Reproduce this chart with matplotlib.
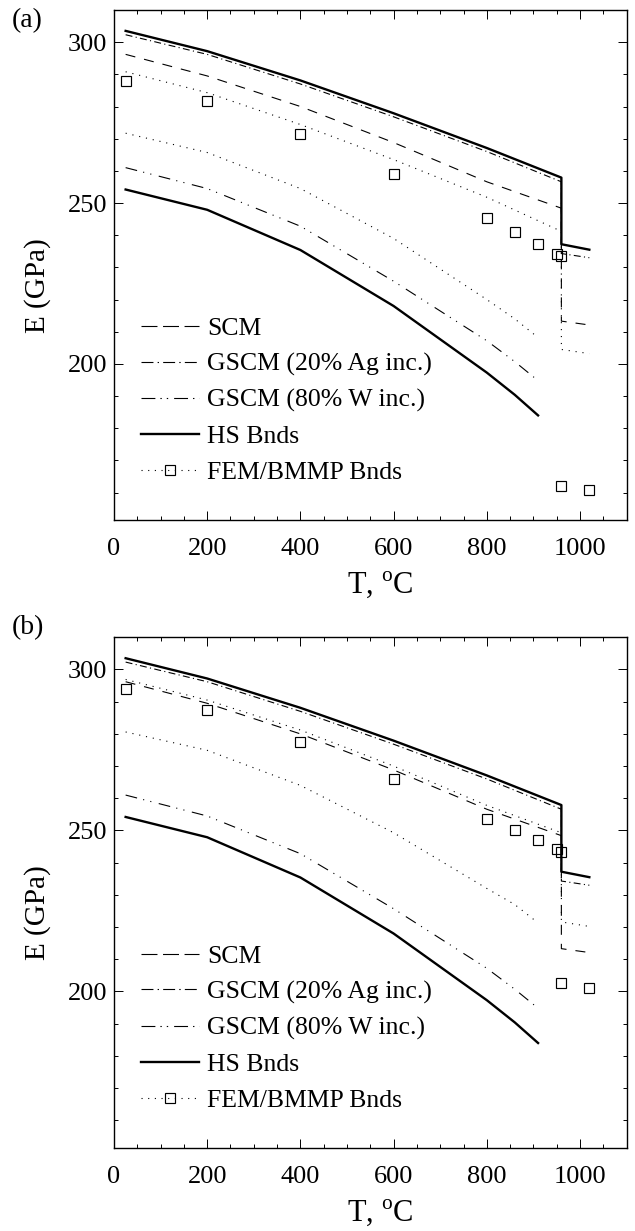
import matplotlib

matplotlib.use("Agg")
import matplotlib.pyplot as plt
from matplotlib.lines import Line2D
from matplotlib.ticker import MultipleLocator

plt.rcParams["font.family"] = ["Liberation Serif", "DejaVu Serif"]
plt.rcParams["mathtext.fontset"] = "custom"
plt.rcParams["mathtext.rm"] = "Liberation Serif"
plt.rcParams["lines.scale_dashes"] = False

# temperatures (C)
T_HI = [25, 200, 400, 600, 800, 960, 960, 1020]
T_LO = [25, 200, 400, 600, 800, 860, 910]
T_FEM = [25, 200, 400, 600, 800, 860, 910, 950, 960, 960, 1020]

# analytical models (GPa), same in both panels
HS_UPPER = [303.5, 297.2, 288.1, 277.9, 267.1, 257.9, 237.2, 235.5]
GSCM_AG = [302.3, 296.2, 287.0, 276.8, 266.0, 256.6, 234.3, 233.0]
SCM = [296.2, 289.5, 280.0, 268.8, 256.6, 248.4, 213.3, 212.1]
GSCM_W = [261.0, 254.5, 242.8, 225.7, 207.2, 200.7, 194.8]
HS_LOWER = [254.2, 247.9, 235.4, 218.0, 197.3, 190.4, 184.0]

# panel (a)
BMMP_UP_A = [290.8, 284.3, 274.4, 263.5, 251.8, 241.2, 204.5, 203.2]
BMMP_LO_A = [271.7, 265.7, 254.5, 239.0, 220.0, 214.0, 208.2]
FEM_A = [287.9, 281.6, 271.4, 259.0, 245.3, 241.0, 237.3, 234.3, 233.5, 162.1, 160.8]

# panel (b)
BMMP_UP_B = [296.9, 290.5, 281.2, 270.0, 257.8, 249.3, 221.6, 220.2]
BMMP_LO_B = [280.6, 274.9, 264.0, 249.3, 232.0, 227.0, 221.3]
FEM_B = [293.9, 287.4, 277.5, 266.1, 253.7, 250.0, 246.9, 244.4, 243.3, 202.5, 201.1]

LEGEND_LABELS = ["SCM", "GSCM (20% Ag inc.)", "GSCM (80% W inc.)", "HS Bnds", "FEM/BMMP Bnds"]

DOT = (0, (0.8, 4.2))
DASH = (0, (7.2, 6.5))
DASHDOT = (0, (5.0, 2.4, 0.8, 2.4))
DASHDOTDOT = (0, (8.5, 4.5, 0.8, 4.5, 0.8, 5.5))

THIN = 0.8
THICK = 1.7
MS = 6.8


def draw_panel(ax, bmmp_up, bmmp_lo, fem, tag, tag_y):
    ax.plot(T_HI, bmmp_up, color="black", lw=THIN, ls=DOT)
    ax.plot(T_LO, bmmp_lo, color="black", lw=THIN, ls=DOT)
    ax.plot(T_HI, SCM, color="black", lw=THIN, ls=DASH)
    ax.plot(T_HI, GSCM_AG, color="black", lw=THIN, ls=DASHDOT)
    ax.plot(T_LO, GSCM_W, color="black", lw=THIN, ls=DASHDOTDOT)
    ax.plot(T_HI, HS_UPPER, color="black", lw=THICK, ls="-")
    ax.plot(T_LO, HS_LOWER, color="black", lw=THICK, ls="-")
    ax.plot(T_FEM, fem, ls="none", marker="s", ms=MS, mfc="none",
            mec="black", mew=0.85)

    ax.set_xlim(0, 1100)
    ax.set_ylim(151.5, 310)
    ax.xaxis.set_major_locator(MultipleLocator(200))
    ax.xaxis.set_minor_locator(MultipleLocator(50))
    ax.yaxis.set_major_locator(MultipleLocator(50))
    ax.yaxis.set_minor_locator(MultipleLocator(10))
    ax.tick_params(which="both", direction="in", top=True, right=True,
                   width=0.7, labelsize=19)
    ax.tick_params(which="major", length=6.5)
    ax.tick_params(which="minor", length=3)
    ax.tick_params(axis="x", pad=13)
    ax.tick_params(axis="y", pad=5)
    for spine in ax.spines.values():
        spine.set_linewidth(1.0)

    ax.set_xlabel(r"T, $^{\rm o}$C", fontsize=22)
    ax.xaxis.set_label_coords(0.52, -0.097)
    ax.set_ylabel("E (GPa)", fontsize=21)
    ax.yaxis.set_label_coords(-0.122, 0.46)
    ax.text(-0.2, tag_y, tag, transform=ax.transAxes, fontsize=20,
            ha="left", va="center")

    handles = [
        Line2D([], [], color="black", lw=THIN, ls=(0, (11.5, 4))),
        Line2D([], [], color="black", lw=THIN, ls=(0, (8.6, 3, 1, 3))),
        Line2D([], [], color="black", lw=THIN, ls=(0, (10, 3.6, 1, 3.6, 1, 4.3))),
        Line2D([], [], color="black", lw=THICK, ls="-"),
        Line2D([], [], color="black", lw=THIN, ls=(0, (0.8, 4.0)),
               marker="s", ms=MS, mfc="none", mec="black", mew=0.85),
    ]
    ax.legend(handles, LEGEND_LABELS, loc="upper left",
              bbox_to_anchor=(0.052, 0.398), frameon=False, fontsize=18.5,
              borderpad=0, borderaxespad=0, labelspacing=0.5,
              handlelength=2.27, handletextpad=0.32, numpoints=1)


fig = plt.figure(figsize=(6.35, 12.31), dpi=100)
ax_a = fig.add_axes([0.1795, 0.5776, 0.8073, 0.4143])
ax_b = fig.add_axes([0.1795, 0.0677, 0.8073, 0.4146])

draw_panel(ax_a, BMMP_UP_A, BMMP_LO_A, FEM_A, "(a)", 0.98)
draw_panel(ax_b, BMMP_UP_B, BMMP_LO_B, FEM_B, "(b)", 1.018)

fig.savefig("out.png", dpi=100)
plt.close(fig)
